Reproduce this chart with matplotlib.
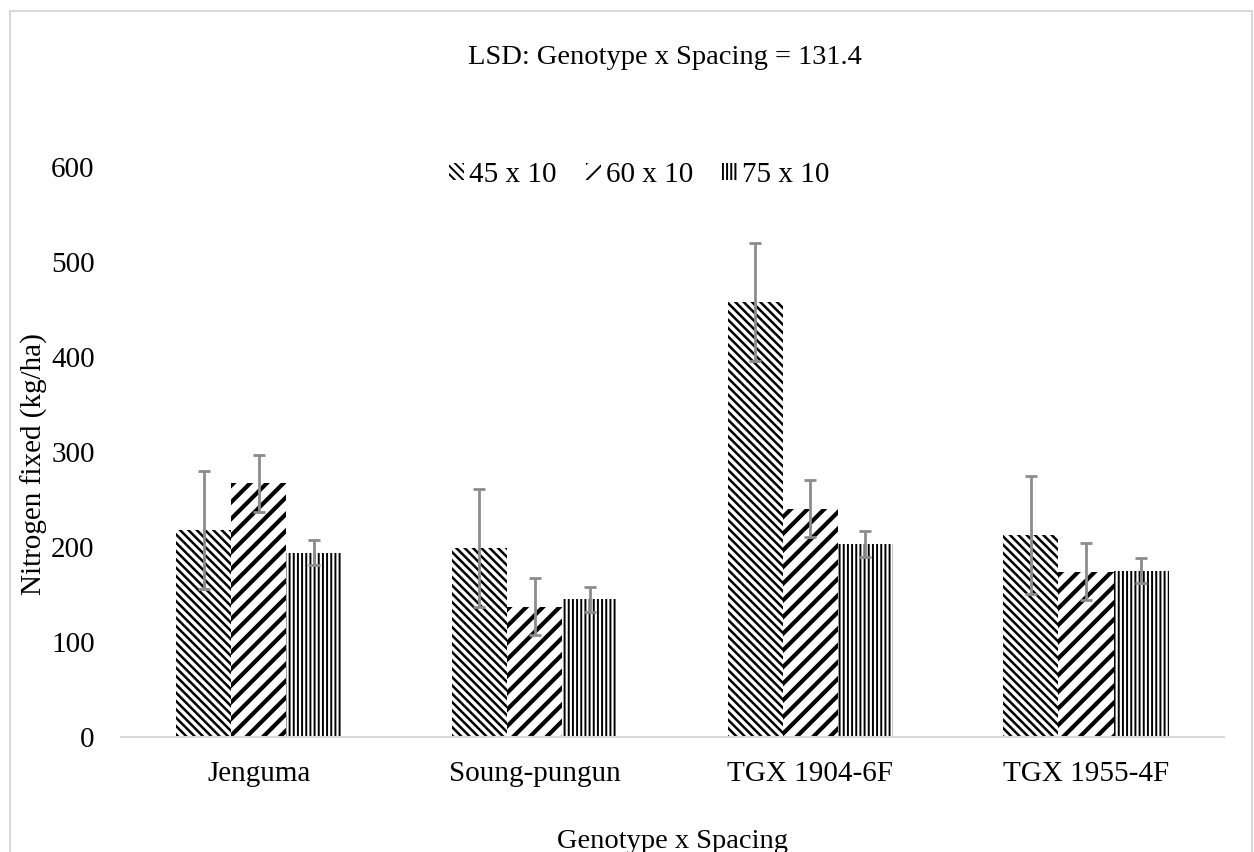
"""Nitrogen fixed by genotype and spacing - hatched bar chart"""
import matplotlib
matplotlib.use("Agg")
import matplotlib.pyplot as plt
from matplotlib.patches import Rectangle
import numpy as np

plt.rcParams["font.family"] = ["Liberation Serif", "DejaVu Serif"]

genotypes = ["Jenguma", "Soung-pungun", "TGX 1904-6F", "TGX 1955-4F"]
spacings = ["45 x 10", "60 x 10", "75 x 10"]

# mean N fixed (kg/ha) per spacing, one value per genotype
n_45 = [218, 199, 458, 213]
n_60 = [267, 137, 240, 174]
n_75 = [194, 145, 203, 175]

# symmetric error bars
err_45 = [62, 62, 62, 62]
err_60 = [30, 30, 30, 30]
err_75 = [13, 13, 14, 13]

yticks = [0, 100, 200, 300, 400, 500, 600]

fig = plt.figure(figsize=(12.54, 8.52), dpi=100)
ax = fig.add_axes([0.0965, 0.135, 0.8795, 0.669])

x = np.arange(len(genotypes))
width = 0.2
hatches = ["\\\\\\\\", "//", "||||"]
hatch_lw = [1.8, 3.0, 1.4]
series = [n_45, n_60, n_75]
errors = [err_45, err_60, err_75]

for i, (vals, errs) in enumerate(zip(series, errors)):
    plt.rcParams["hatch.linewidth"] = hatch_lw[i]
    pos = x + (i - 1) * width
    bars = ax.bar(pos, vals, width, color="white", edgecolor="black",
                  linewidth=0, hatch=hatches[i], label=spacings[i], zorder=2)
    for b in bars:
        try:
            b.set_hatch_linewidth(hatch_lw[i])
        except AttributeError:
            pass
    ax.errorbar(pos, vals, yerr=errs, fmt="none", ecolor="#8c8c8c",
                elinewidth=2, capsize=4.3, capthick=2, zorder=3)

ax.set_xlim(-0.5, len(genotypes) - 0.5)
ax.set_ylim(0, 600)
ax.set_yticks(yticks)
ax.set_xticks(x)
ax.set_xticklabels(genotypes)
ax.tick_params(axis="both", length=0, labelsize=21)
ax.tick_params(axis="x", pad=17)
ax.tick_params(axis="y", pad=19)
for s in ["top", "right", "left"]:
    ax.spines[s].set_visible(False)
ax.spines["bottom"].set_color("#d9d9d9")
ax.spines["bottom"].set_linewidth(1.5)

leg = ax.legend(loc="upper center", bbox_to_anchor=(0.47, 1.055), ncol=3,
                frameon=False, fontsize=21, handlelength=0.52,
                handleheight=0.52, handletextpad=0.17, columnspacing=1.0)

fig.text(0.53, 0.933, "LSD: Genotype x Spacing = 131.4", ha="center",
         va="center", fontsize=20.5)
fig.text(0.027, 0.455, "Nitrogen fixed (kg/ha)", rotation=90, ha="center",
         va="center", fontsize=21)
fig.text(0.536, 0.012, "Genotype x Spacing", ha="center", va="center",
         fontsize=20.5)

fig.patches.append(Rectangle((10 / 1254, -0.05), 1242 / 1254, 1 - 11 / 852 + 0.05,
                             transform=fig.transFigure, fill=False,
                             edgecolor="#d9d9d9", linewidth=1.5))

fig.savefig("out.png", dpi=100)
